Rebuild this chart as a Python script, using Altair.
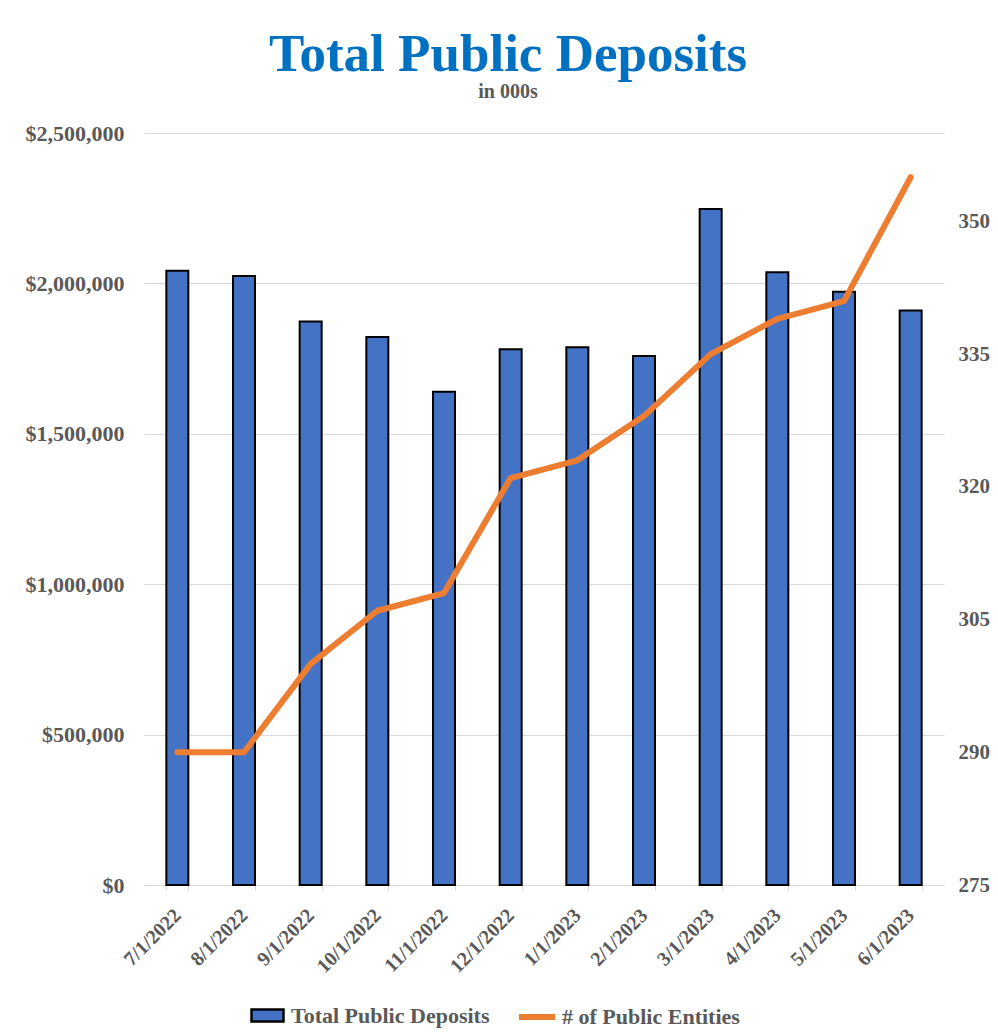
import altair as alt
import pandas as pd

dates = ["7/1/2022", "8/1/2022", "9/1/2022", "10/1/2022", "11/1/2022", "12/1/2022",
         "1/1/2023", "2/1/2023", "3/1/2023", "4/1/2023", "5/1/2023", "6/1/2023"]
deposits = [2042000, 2025000, 1873000, 1822000, 1640000, 1781000,
            1788000, 1759000, 2247000, 2037000, 1972000, 1910000]
entities = [290, 290, 300, 306, 308, 321, 323, 328, 335, 339, 341, 355]
left_ticks = [0, 500000, 1000000, 1500000, 2000000, 2500000]
right_ticks = [275, 290, 305, 320, 335, 350]

df = pd.DataFrame({
    "date": dates,
    "deposits": deposits,
    "entities": entities,
    "s1": ["Total Public Deposits"] * len(dates),
    "s2": ["# of Public Entities"] * len(dates),
})

FONT = "Liberation Serif"
GRAY = "#595959"

x_enc = alt.X(
    "date:N", sort=dates, title=None,
    scale=alt.Scale(paddingInner=0.67, paddingOuter=0.335),
    axis=alt.Axis(
        labelAngle=-45, labelAlign="right", labelBaseline="middle",
        labelFont=FONT, labelFontSize=20, labelFontWeight="bold", labelColor=GRAY,
        labelPadding=22, tickSize=5, tickColor="#d9d9d9", tickBand="extent",
        domainColor="#d9d9d9", domainWidth=1, grid=False,
    ),
)

base = alt.Chart(df).encode(x=x_enc)

bars = base.mark_bar(stroke="black", strokeWidth=2).encode(
    y=alt.Y(
        "deposits:Q", title=None,
        scale=alt.Scale(domain=[0, 2500000], nice=False),
        axis=alt.Axis(
            values=left_ticks, format="$,.0f", orient="left",
            labelFont=FONT, labelFontSize=22, labelFontWeight="bold", labelColor=GRAY,
            labelPadding=20, ticks=False, domain=False,
            grid=True, gridColor="#d9d9d9", gridWidth=1,
        ),
    ),
    fill=alt.Fill(
        "s1:N", scale=alt.Scale(range=["#4472C4"]),
        legend=alt.Legend(
            title=None, orient="none", legendX=106, legendY=865, padding=0,
            symbolType="M-1,-0.375H1V0.375H-1Z", symbolSize=1024,
            symbolStrokeColor="black", symbolStrokeWidth=2.5,
            labelFont=FONT, labelFontSize=22, labelFontWeight="bold", labelColor=GRAY,
            labelOffset=6, labelLimit=400,
        ),
    ),
)

line = base.mark_line(strokeWidth=6, strokeCap="round", strokeJoin="round").encode(
    y=alt.Y(
        "entities:Q", title=None,
        scale=alt.Scale(domain=[275, 360], nice=False, zero=False),
        axis=alt.Axis(
            values=right_ticks, orient="right",
            labelFont=FONT, labelFontSize=21, labelFontWeight="bold", labelColor=GRAY,
            labelPadding=14, ticks=False, domain=False, grid=False,
        ),
    ),
    stroke=alt.Stroke(
        "s2:N", scale=alt.Scale(range=["#ED7D31"]),
        legend=alt.Legend(
            title=None, orient="none", legendX=372, legendY=863, padding=0,
            symbolType="stroke", symbolSize=1296, symbolStrokeWidth=6,
            labelFont=FONT, labelFontSize=22, labelFontWeight="bold", labelColor=GRAY,
            labelOffset=4, labelLimit=400,
        ),
    ),
)

chart = alt.layer(bars, line).resolve_scale(
    y="independent", fill="independent", stroke="independent"
).properties(
    width=800, height=752,
    title=alt.TitleParams(
        "Total Public Deposits", subtitle="in 000s",
        font=FONT, fontSize=53, fontWeight="bold", color="#0070C0",
        subtitleFont=FONT, subtitleFontSize=20, subtitleFontWeight="bold",
        subtitleColor=GRAY, subtitlePadding=0,
        anchor="middle", dx=-36, offset=20,
    ),
    autosize=alt.AutoSizeParams(type="none"),
    padding={"left": 136, "top": 125, "right": 46, "bottom": 143},
    background="white",
).configure_view(strokeWidth=0)

chart.save("out.html", embed_options={"renderer": "svg", "actions": False})
